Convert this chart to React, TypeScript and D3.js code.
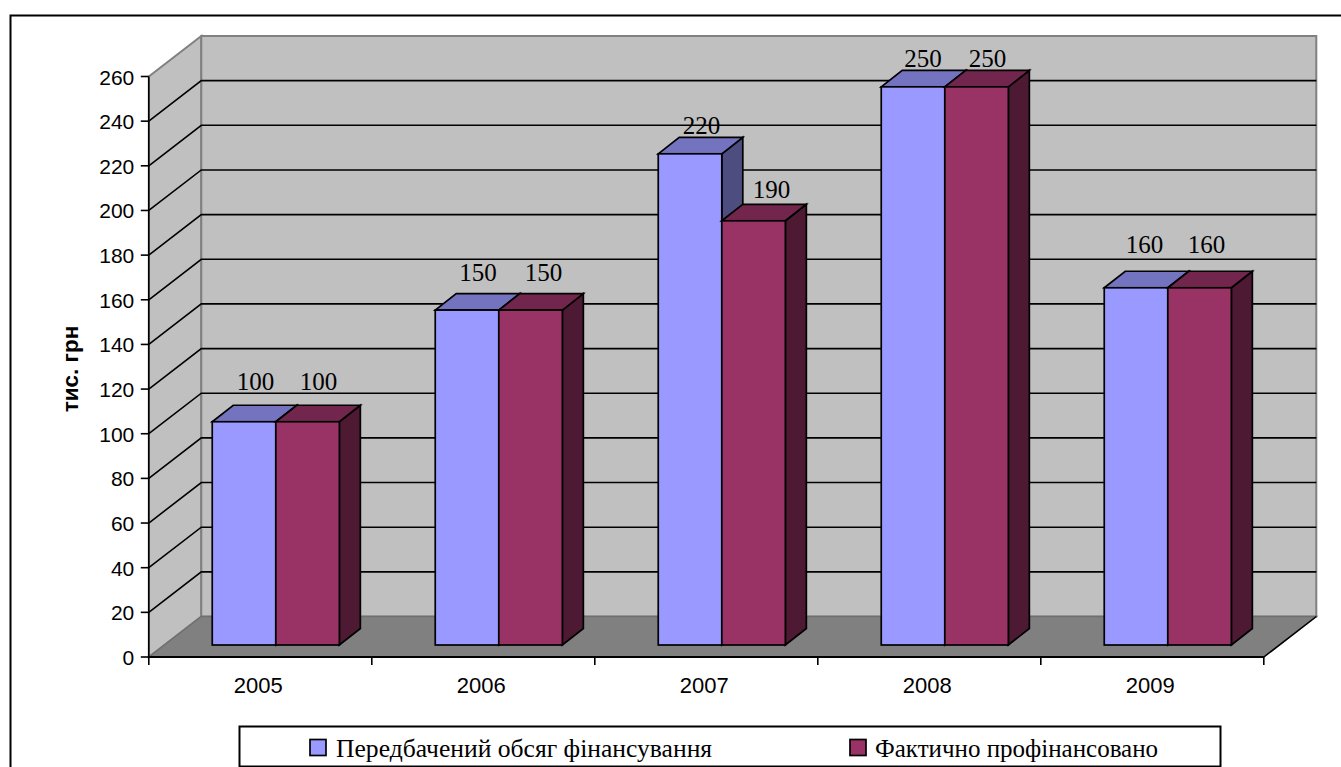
import React from "react";
import * as d3 from "d3";

const categories = ["2005", "2006", "2007", "2008", "2009"];
const planned = [100, 150, 220, 250, 160];
const actual = [100, 150, 190, 250, 160];
const yTicks = d3.range(0, 261, 20);
const seriesNames = ["Передбачений обсяг фінансування", "Фактично профінансовано"];

// Manual label placement, as in the reference (offset from the bar's front-top centre)
const plannedLabelDx = [11.5, 11, 11.5, 10, 8.5];
const actualLabelDx = [11, 13, 18, 11, 7];
const plannedLabelDy = [-32, -29, -20, -20, -35];
const actualLabelDy = [-32, -29, -23, -20, -35];

const W = 1341, H = 767;
const x0 = 148.8, x1 = 1263.8, y0 = 657, y1 = 76.5;
const wallDx = 52.5, wallDy = -40.5;
const barOffDx = 15.5, barOffDy = -12;
const barDepthDx = 21, barDepthDy = -16.5;

const x = d3.scaleBand<string>().domain(categories).range([x0, x1]).paddingInner(0.43).paddingOuter(0.215);
const y = d3.scaleLinear().domain([0, 260]).range([y0, y1]);
const pts = (p: number[][]) => p.map((q) => q.join(",")).join(" ");

const serif = "'Liberation Serif','Times New Roman',serif";
const sans = "'Liberation Sans',Arial,sans-serif";

function Bar({ cx, w, v, front, top, side, ldx, ldy }: any) {
  const l = cx + barOffDx, r = l + w;
  const t = y(v) + barOffDy, b = y(0) + barOffDy;
  const dx = barDepthDx, dy = barDepthDy;
  return (
    <g stroke="#000" strokeWidth={1.7} strokeLinejoin="miter">
      <polygon points={pts([[r, t], [r + dx, t + dy], [r + dx, b + dy], [r, b]])} fill={side} />
      <polygon points={pts([[l, t], [l + dx, t + dy], [r + dx, t + dy], [r, t]])} fill={top} />
      <rect x={l} y={t} width={w} height={b - t} fill={front} />
      <text x={l + w / 2 + ldx} y={t + ldy} textAnchor="middle" fontFamily={serif} fontSize={25} fill="#000" stroke="none">{v}</text>
    </g>
  );
}

export default function App() {
  const bw = x.bandwidth() / 2;
  return (
    <svg width={W} height={H} style={{ position: "absolute", left: 0, top: 0, background: "#fff" }}>
      <rect x={10.5} y={15.5} width={1340} height={800} fill="#fff" stroke="#000" strokeWidth={2} />
      {/* side wall */}
      <polygon points={pts([[x0, y1], [x0 + wallDx, y1 + wallDy], [x0 + wallDx, y0 + wallDy], [x0, y0]])} fill="#c0c0c0" stroke="#808080" strokeWidth={2} />
      {/* back wall */}
      <rect x={x0 + wallDx} y={y1 + wallDy} width={x1 - x0} height={y0 - y1} fill="#c0c0c0" stroke="#808080" strokeWidth={2} />
      {/* floor */}
      <polygon points={pts([[x0, y0], [x0 + wallDx, y0 + wallDy], [x1 + wallDx, y0 + wallDy], [x1, y0]])} fill="#808080" stroke="#6f6f6f" strokeWidth={1.5} />
      {/* gridlines */}
      {yTicks.slice(1, -1).map((t) => (
        <polyline key={t} points={pts([[x0, y(t)], [x0 + wallDx, y(t) + wallDy], [x1 + wallDx, y(t) + wallDy]])} fill="none" stroke="#000" strokeWidth={1.6} />
      ))}
      {/* axes */}
      <line x1={x0} x2={x0} y1={y1} y2={y0} stroke="#000" strokeWidth={1.6} />
      <line x1={x0} x2={x1} y1={y0} y2={y0} stroke="#000" strokeWidth={2} />
      <line x1={x1} y1={y0} x2={x1 + wallDx} y2={y0 + wallDy} stroke="#000" strokeWidth={1.5} />
      {yTicks.map((t) => (
        <g key={t}>
          <line x1={x0 - 8} x2={x0} y1={y(t)} y2={y(t)} stroke="#000" strokeWidth={1.6} />
          <text x={x0 - 14.5} y={y(t) + 8} textAnchor="end" fontFamily={sans} fontSize={21} fill="#000">{t}</text>
        </g>
      ))}
      {d3.range(categories.length + 1).map((i) => {
        const px = x0 + ((x1 - x0) / categories.length) * i;
        return <line key={i} x1={px} x2={px} y1={y0} y2={y0 + 8} stroke="#000" strokeWidth={1.6} />;
      })}
      {categories.map((c) => (
        <text key={c} x={(x(c) as number) + x.bandwidth() / 2 - 2} y={693} textAnchor="middle" fontFamily={sans} fontSize={22} fill="#000">{c}</text>
      ))}
      {/* bars */}
      {categories.map((c, i) => (
        <g key={c}>
          <Bar cx={x(c)} w={bw} v={planned[i]} front="#9999ff" top="#7373bf" side="#4d4d80" ldx={plannedLabelDx[i]} ldy={plannedLabelDy[i]} />
          <Bar cx={(x(c) as number) + bw} w={bw} v={actual[i]} front="#993366" top="#73264d" side="#4d1933" ldx={actualLabelDx[i]} ldy={actualLabelDy[i]} />
        </g>
      ))}
      {/* axis title */}
      <text transform="translate(77.5,369) rotate(-90)" textAnchor="middle" fontFamily={sans} fontWeight="bold" fontSize={22.5} fill="#000">тис. грн</text>
      {/* legend */}
      <rect x={239.5} y={726.5} width={981} height={40} fill="#fff" stroke="#000" strokeWidth={2} />
      <rect x={310} y={739.5} width={16} height={16} fill="#9999ff" stroke="#000" strokeWidth={1.7} />
      <text x={336} y={756.5} fontFamily={serif} fontSize={25.6} fill="#000">{seriesNames[0]}</text>
      <rect x={850} y={739.5} width={16} height={16} fill="#993366" stroke="#000" strokeWidth={1.7} />
      <text x={875} y={756.5} fontFamily={serif} fontSize={25} fill="#000">{seriesNames[1]}</text>
    </svg>
  );
}
